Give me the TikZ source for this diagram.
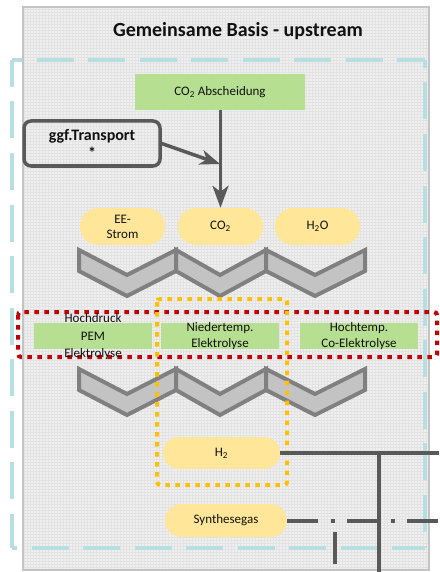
\documentclass[tikz,border=0pt]{standalone}
\usepackage{fontspec}
\setmainfont{Carlito}
\usetikzlibrary{arrows.meta}
\definecolor{bgfill}{HTML}{EFEFEF}
\definecolor{bggrid}{HTML}{E3E3E3}
\definecolor{bgborder}{HTML}{C4C4C4}
\definecolor{blued}{HTML}{B7DFE2}
\definecolor{greenf}{RGB}{183,223,146}
\definecolor{yellowf}{HTML}{FFE699}
\definecolor{dgray}{HTML}{595959}
\definecolor{chevf}{HTML}{C3C3C3}
\definecolor{chevb}{HTML}{808080}
\definecolor{redd}{HTML}{C00000}
\definecolor{orangd}{HTML}{FFC000}
\definecolor{txt}{HTML}{111111}
\newcommand\mychev[4]{\filldraw[chevshape] (#1,#4) -- (#2,#4+25) -- (#3,#4) -- (#3,#4+21) -- (#2,#4+46) -- (#1,#4+21) -- cycle;}
\begin{document}
\begin{tikzpicture}[x=1pt,y=-1pt,
  greenbox/.style={fill=greenf, inner sep=0pt, text=txt},
  pill/.style={fill=yellowf, inner sep=0pt, align=center, text=txt, font=\fontsize{13}{15}\selectfont},
  smalltxt/.style={font=\fontsize{13}{16.5}\selectfont, align=center, text=txt, inner sep=0pt},
  conn/.style={draw=dgray, line width=3.5pt},
  chevshape/.style={fill=chevf, draw=chevb, line width=4pt, line join=miter},
  bluedash/.style={draw=blued, line width=4pt, dash pattern=on 37pt off 14.5pt},
  dotline/.style={line width=4pt, dash pattern=on 4.5pt off 5.5pt, rounded corners=3pt}]
\useasboundingbox (0,0) rectangle (439,572);
\fill[white] (0,0) rectangle (439,572);
% background box
\fill[bgfill] (23,7) rectangle (429,570);
\draw[bggrid, line width=0.5pt, step=3pt] (23pt,-570pt) grid (429pt,-7pt);
\draw[bgborder, line width=2pt] (23,7) rectangle (429,570);
% light blue dashed frame
\draw[bluedash, dash phase=27pt] (12,60) -- (425,60);
\draw[bluedash, dash phase=29pt] (425,60) -- (425,548);
\draw[bluedash, dash phase=32pt] (12,548) -- (425,548);
\draw[bluedash, dash phase=10pt] (12,60) -- (12,548);
% title
\node[font=\bfseries\fontsize{20}{24}\selectfont, text=txt] (title) at (238,31) {Gemeinsame Basis - upstream};
% CO2 Abscheidung
\node[greenbox, minimum width=170pt, minimum height=36pt, font=\fontsize{13}{15}\selectfont] (abs) at (220,92) {CO\textsubscript{2} Abscheidung};
% Transport
\node[draw=dgray, line width=3.5pt, rounded corners=7pt, minimum width=136pt, minimum height=45pt, align=center, inner sep=0pt, text=txt, font=\bfseries\fontsize{16}{18}\selectfont] (trans) at (92,143.5) {ggf.Transport\\*};
% pills row
\node[pill, rounded corners=18pt, minimum width=85pt, minimum height=37pt] (ee) at (122.5,226.5) {EE-\\Strom};
\node[pill, rounded corners=18pt, minimum width=85pt, minimum height=37pt] (co2) at (220.5,226.5) {CO\textsubscript{2}};
\node[pill, rounded corners=18pt, minimum width=85pt, minimum height=37pt] (h2o) at (317.5,226.5) {H\textsubscript{2}O};
% arrows
\coordinate (jn) at (220,164);
\draw[conn, -{Stealth[length=22pt, width=16pt, inset=6pt]}] (abs.south -| co2.north) -- (co2.north);
\draw[conn, -{Stealth[length=20pt, width=15pt, inset=6pt]}] (trans.east) -- (jn);
% chevrons row 1
\mychev{79}{127}{176}{250}
\mychev{176}{220}{266}{250}
\mychev{266}{315}{365}{250}
% green boxes
\node[greenbox, minimum width=118pt, minimum height=26pt] (pem) at (93,336) {};
\node[greenbox, minimum width=118pt, minimum height=26pt] (nt) at (220,336) {};
\node[greenbox, minimum width=118pt, minimum height=26pt] (ht) at (359,336) {};
% chevrons row 2
\mychev{79}{127}{176}{369}
\mychev{176}{220}{266}{369}
\mychev{266}{315}{365}{369}
% dotted frames
\draw[dotline, redd] (18,312) rectangle (437,357);
\draw[dotline, orangd] (157,299) rectangle (287,485);
% green box texts
\node[smalltxt, font=\fontsize{13}{17.5}\selectfont] (pemt) at (93,337) {Hochdruck\\PEM\\Elektrolyse};
\node[smalltxt] (ntt) at (220,336) {Niedertemp.\\Elektrolyse};
\node[smalltxt] (htt) at (359,336) {Hochtemp.\\Co-Elektrolyse};
% H2 and Synthesegas
\node[pill, rounded corners=16pt, minimum width=117pt, minimum height=32pt] (h2) at (221.5,453) {H\textsubscript{2}};
\node[pill, rounded corners=16.5pt, minimum width=122pt, minimum height=33pt] (syn) at (226,520.5) {Synthesegas};
% output lines
\coordinate (h2end) at (439,453);
\coordinate (vtop) at (379,453);
\coordinate (vbot) at (379,572);
\coordinate (synend) at (439,520.5);
\coordinate (stop) at (335,532);
\coordinate (sbot) at (335,564);
\draw[draw=dgray, line width=4pt, dash pattern=on 31pt off 12.5pt on 4pt off 12.5pt] (syn.east) -- (synend);
\draw[conn] (h2.east) -- (h2end);
\draw[conn] (vtop) -- (vbot);
\draw[conn] (stop) -- (sbot);
\end{tikzpicture}
\end{document}
